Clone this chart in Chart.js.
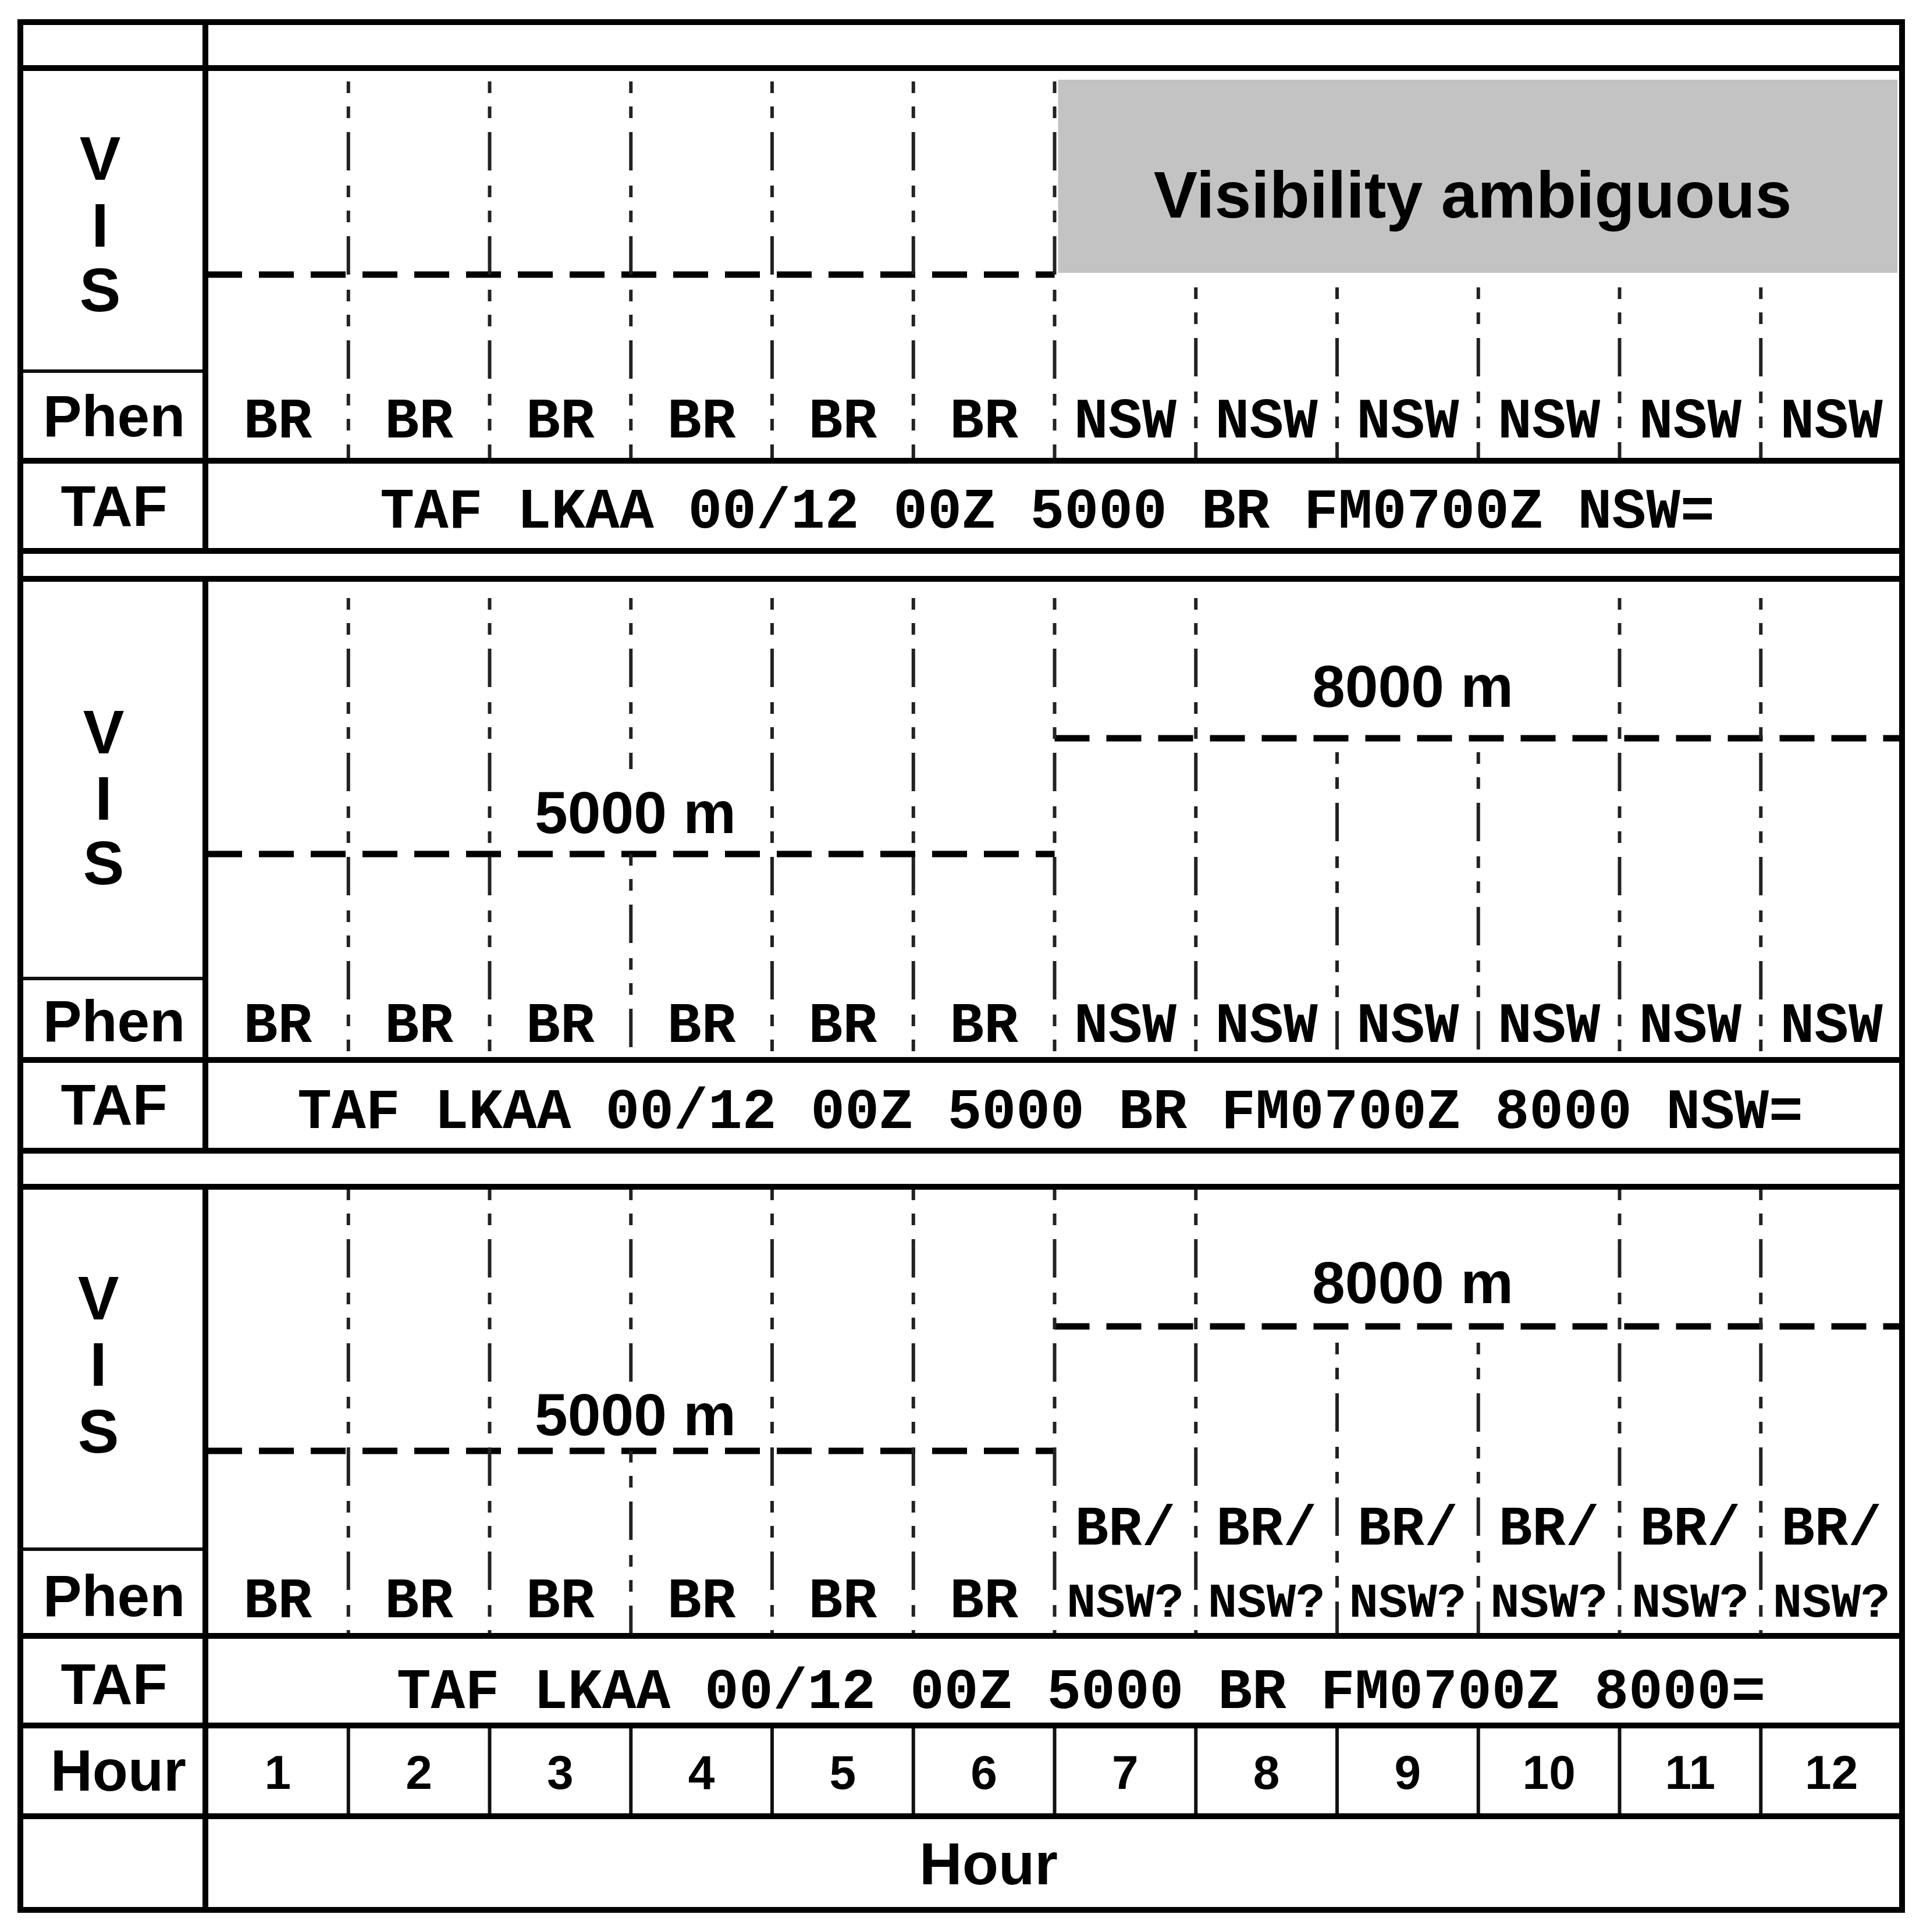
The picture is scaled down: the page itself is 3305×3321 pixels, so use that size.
<!DOCTYPE html>
<html>
<head>
<meta charset="utf-8">
<script src="https://cdn.jsdelivr.net/npm/chart.js@4.4.1/dist/chart.umd.min.js"></script>
<style>
html, body { margin: 0; padding: 0; background: #fff; }
#chart { display: block; }
</style>
</head>
<body>
<canvas id="chart" width="3305" height="3321"></canvas>
<script>
// ---- data ----
const hours = [1, 2, 3, 4, 5, 6, 7, 8, 9, 10, 11, 12];
const rowLabels = ['VIS', 'Phen', 'TAF', 'Hour'];
const axisTitle = 'Hour';
const ambiguousLabel = 'Visibility ambiguous';

// visibility per hour (null = ambiguous)
const visPanel1 = [5000, 5000, 5000, 5000, 5000, 5000, null, null, null, null, null, null];
const visPanel2 = [5000, 5000, 5000, 5000, 5000, 5000, 8000, 8000, 8000, 8000, 8000, 8000];
const visPanel3 = [5000, 5000, 5000, 5000, 5000, 5000, 8000, 8000, 8000, 8000, 8000, 8000];

// phenomenon per hour
const phenPanel1 = ['BR', 'BR', 'BR', 'BR', 'BR', 'BR', 'NSW', 'NSW', 'NSW', 'NSW', 'NSW', 'NSW'];
const phenPanel2 = ['BR', 'BR', 'BR', 'BR', 'BR', 'BR', 'NSW', 'NSW', 'NSW', 'NSW', 'NSW', 'NSW'];
const phenPanel3 = ['BR', 'BR', 'BR', 'BR', 'BR', 'BR', 'BR/|NSW?', 'BR/|NSW?', 'BR/|NSW?', 'BR/|NSW?', 'BR/|NSW?', 'BR/|NSW?'];

const tafPanel1 = 'TAF LKAA 00/12 00Z 5000 BR FM0700Z NSW=';
const tafPanel2 = 'TAF LKAA 00/12 00Z 5000 BR FM0700Z 8000 NSW=';
const tafPanel3 = 'TAF LKAA 00/12 00Z 5000 BR FM0700Z 8000=';

// ---- layout (pixels of the picture) ----
const W = 3305, H = 3321;
const X0 = 356, COLW = 242.75;          // start of hour 1, width of one hour
const px = v => (v - X0) / COLW;        // picture x -> hour units
const LEFT = px(35), DIV = px(353), RIGHT = hours.length;
const TOP = 38, BOTTOM = 3283;
const HOUR_TOP = 2966, HOUR_BOTTOM = 3122;
const LABEL_X = px(196);

const SANS = '"Liberation Sans", Arial, sans-serif';
const MONO = '"Liberation Mono", "Courier New", monospace';
const SANS_DY = 6, MONO_DY = 9;   // 'middle' baseline sits a little high

const panels = [
    {
        vis: visPanel1, phen: phenPanel1, taf: tafPanel1,
        top: 117, visDiv: 638, phenDiv: 792, bottom: 947,
        visX: px(172), visY: [274, 389, 500],
        phenLabelY: 716, tafLabelY: 871, phenY: 718, tafY: 873, tafX: px(1800),
        levelY: { 5000: 472 },
        levelText: [],
        vseg: b => b <= 6 ? [[140, 792]] : [[494, 792]]
    },
    {
        vis: visPanel2, phen: phenPanel2, taf: tafPanel2,
        top: 995, visDiv: 1682, phenDiv: 1822, bottom: 1978,
        visX: px(178), visY: [1260, 1374, 1485],
        phenLabelY: 1756, tafLabelY: 1900, phenY: 1757, tafY: 1905, tafX: px(1805),
        levelY: { 5000: 1468, 8000: 1269 },
        levelText: [{ v: 5000, x: px(1092), y: 1398 }, { v: 8000, x: px(2428), y: 1181 }],
        vseg: b => b === 3 ? [[1028, 1322], [1468, 1822]] : (b === 8 || b === 9) ? [[1293, 1822]] : [[1028, 1822]]
    },
    {
        vis: visPanel3, phen: phenPanel3, taf: tafPanel3,
        top: 2040, visDiv: 2663, phenDiv: 2812, bottom: 2966,
        visX: px(169), visY: [2233, 2347, 2462],
        phenLabelY: 2744, tafLabelY: 2896, phenY: 2746, phenSplitY: [2622, 2749], tafY: 2902, tafX: px(1858),
        levelY: { 5000: 2494, 8000: 2280 },
        levelText: [{ v: 5000, x: px(1092), y: 2433 }, { v: 8000, x: px(2428), y: 2206 }],
        vseg: b => b === 3 ? [[2043, 2385], [2494, 2812]] : (b === 8 || b === 9) ? [[2308, 2812]] : [[2043, 2812]]
    }
];

// ---- datasets ----
const datasets = [];

function seg(x1, y1, x2, y2, width, color, dash, cap) {
    datasets.push({
        data: [{ x: x1, y: y1 }, { x: x2, y: y2 }],
        borderColor: color,
        borderWidth: width,
        borderDash: dash || [],
        borderCapStyle: cap || 'butt',
        pointRadius: 0,
        fill: false,
        tension: 0,
        clip: false
    });
}

const THICK = 10, THIN = 6;
const DASHDOT = [20, 23, 20, 24, 66, 26];

// table frame
[TOP, 117, 792, 947, 995, 1822, 1978, 2040, 2812, HOUR_TOP, HOUR_BOTTOM, BOTTOM].forEach(y => {
    seg(LEFT, y, RIGHT, y, THICK, '#000', null, 'square');
});
seg(LEFT, TOP, LEFT, BOTTOM, THICK, '#000', null, 'square');
seg(RIGHT, TOP, RIGHT, BOTTOM, THICK, '#000', null, 'square');
[[TOP, 947], [995, 1978], [2040, BOTTOM]].forEach(([a, b]) => seg(DIV, a, DIV, b, THICK, '#000'));

panels.forEach(p => {
    // VIS / Phen split in the label column
    seg(LEFT, p.visDiv, DIV, p.visDiv, THIN, '#111');

    // hour boundaries as dash-dot lines
    for (let b = 1; b < hours.length; b++) {
        p.vseg(b).forEach(([a, c]) => seg(b, a, b, c, 6, '#222', DASHDOT));
    }

    // visibility levels, one dashed line per run of equal values
    let start = 0;
    for (let i = 1; i <= p.vis.length; i++) {
        if (i === p.vis.length || p.vis[i] !== p.vis[start]) {
            const v = p.vis[start];
            if (v !== null) seg(start, p.levelY[v], i, p.levelY[v], 11, '#000', [60, 29]);
            start = i;
        }
    }
});

// hour row column dividers
for (let b = 1; b < hours.length; b++) {
    seg(b, HOUR_TOP, b, HOUR_BOTTOM, THIN, '#111');
}

// ---- text and shaded box ----
const tablePlugin = {
    id: 'tableText',
    beforeDatasetsDraw(chart) {
        const { ctx, scales: { x, y } } = chart;
        const p = panels[0];
        const i0 = p.vis.indexOf(null);
        ctx.save();
        ctx.fillStyle = '#c3c3c3';
        const xl = x.getPixelForValue(i0) + 6, xr = x.getPixelForValue(p.vis.length) - 8;
        const yt = y.getPixelForValue(p.top + 20), yb = y.getPixelForValue(p.levelY[5000] - 3);
        ctx.fillRect(xl, yt, xr - xl, yb - yt);
        ctx.restore();
    },
    afterDatasetsDraw(chart) {
        const { ctx, scales: { x, y } } = chart;
        const text = (s, hx, py, font) => {
            ctx.font = font;
            const dy = font.includes('Mono') ? MONO_DY : SANS_DY;
            ctx.fillText(s, x.getPixelForValue(hx), y.getPixelForValue(py) + dy);
        };
        ctx.save();
        ctx.fillStyle = '#000';
        ctx.textAlign = 'center';
        ctx.textBaseline = 'middle';

        panels.forEach(p => {
            rowLabels[0].split('').forEach((ch, j) => text(ch, p.visX, p.visY[j], 'bold 106px ' + SANS));
            text(rowLabels[1], LABEL_X, p.phenLabelY, 'bold 100px ' + SANS);
            text(rowLabels[2], LABEL_X, p.tafLabelY, 'bold 98px ' + SANS);

            p.phen.forEach((s, i) => {
                const cx = i + 0.5;
                if (s.includes('|')) {
                    const [a, b] = s.split('|');
                    text(a, cx, p.phenSplitY[0], 'bold 96px ' + MONO);
                    text(b, cx, p.phenSplitY[1], 'bold 84px ' + MONO);
                } else {
                    text(s, cx, p.phenY, 'bold 98px ' + MONO);
                }
            });

            text(p.taf, p.tafX, p.tafY, 'bold 98px ' + MONO);

            p.levelText.forEach(t => text(t.v + ' m', t.x, t.y, 'bold 102px ' + SANS));
        });

        // ambiguous visibility in panel 1
        const p1 = panels[0];
        const i0 = p1.vis.indexOf(null);
        text(ambiguousLabel, (i0 + p1.vis.length) / 2 - 0.04, 337, 'bold 113px ' + SANS);

        // hour row
        text(rowLabels[3], LABEL_X + 0.03, 3044, 'bold 100px ' + SANS);
        hours.forEach((h, i) => text(String(h), i + 0.5, 3046, 'bold 82px ' + SANS));

        // axis title
        text(axisTitle, px(1699), 3205, 'bold 102px ' + SANS);
        ctx.restore();
    }
};

new Chart(document.getElementById('chart').getContext('2d'), {
    type: 'line',
    data: { datasets },
    options: {
        responsive: false,
        animation: false,
        devicePixelRatio: 1,
        events: [],
        layout: { padding: 0 },
        plugins: {
            legend: { display: false },
            tooltip: { enabled: false }
        },
        scales: {
            x: { type: 'linear', display: false, min: px(0), max: px(W) },
            y: { type: 'linear', display: false, min: 0, max: H, reverse: true }
        }
    },
    plugins: [tablePlugin]
});
</script>
</body>
</html>
